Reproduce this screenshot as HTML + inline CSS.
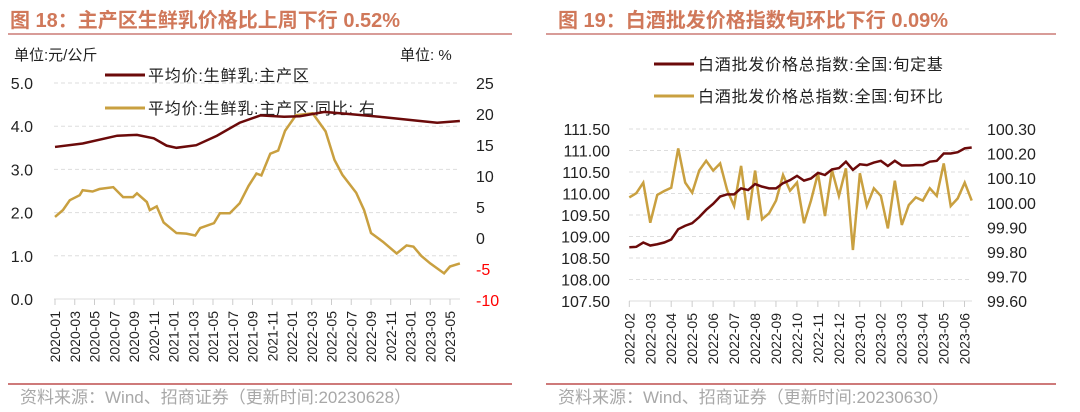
<!DOCTYPE html>
<html><head><meta charset="utf-8"><style>
body{margin:0;background:#fff;width:1080px;height:412px;overflow:hidden;font-family:"Liberation Sans","Noto Sans CJK SC",sans-serif}
svg{position:absolute;left:0;top:0}
</style></head><body>
<svg width="1080" height="412" id="s">
<g font-family="Liberation Sans, Noto Sans CJK SC, sans-serif">
<text x="10" y="27" font-size="20" font-weight="bold" fill="#d0785a">图 18：主产区生鲜乳价格比上周下行 0.52%</text>
<line x1="8" y1="34" x2="512" y2="34" stroke="#c0605a" stroke-width="1.2"/>
<text x="558" y="27" font-size="20" font-weight="bold" fill="#d0785a">图 19：白酒批发价格指数旬环比下行 0.09%</text>
<line x1="546" y1="34" x2="1056" y2="34" stroke="#c0605a" stroke-width="1.2"/>
<line x1="8" y1="384" x2="512" y2="384" stroke="#b02a2a" stroke-width="1.2"/>
<line x1="546" y1="384" x2="1056" y2="384" stroke="#b02a2a" stroke-width="1.2"/>
<text x="20" y="403" font-size="17" fill="#a8a8a8">资料来源：Wind、招商证券（更新时间:20230628）</text>
<text x="558" y="403" font-size="17" fill="#a8a8a8">资料来源：Wind、招商证券（更新时间:20230630）</text>
<text x="14" y="60" font-size="15" fill="#222">单位:元/公斤</text>
<text x="400" y="60" font-size="15" fill="#222">单位: %</text>
<line x1="105" y1="75" x2="145" y2="75" stroke="#6b0a0a" stroke-width="3"/>
<text x="148" y="81" font-size="16" letter-spacing="0.8" fill="#222">平均价:生鲜乳:主产区</text>
<line x1="105" y1="108" x2="145" y2="108" stroke="#c9a040" stroke-width="3"/>
<text x="148" y="114" font-size="16" letter-spacing="0.8" fill="#222">平均价:生鲜乳:主产区:同比:  右</text>
<line x1="654" y1="64" x2="694" y2="64" stroke="#6b0a0a" stroke-width="3"/>
<text x="698" y="70" font-size="16" letter-spacing="0.8" fill="#222">白酒批发价格总指数:全国:旬定基</text>
<line x1="654" y1="96" x2="694" y2="96" stroke="#c9a040" stroke-width="3"/>
<text x="698" y="102" font-size="16" letter-spacing="0.8" fill="#222">白酒批发价格总指数:全国:旬环比</text>
</g>
<g id="L"></g><g id="R"></g>
</svg>
<script>
// Left chart data
const milkPriceMonths=[0,2.8,6.3,8.3,10,11.3,12.3,14.3,16.4,18.7,20.8,23.2,24.8,27.3,29.9,33.2,36.6,38.7,41];
const milkPrice=[3.52,3.60,3.78,3.80,3.72,3.55,3.50,3.56,3.78,4.08,4.25,4.22,4.23,4.33,4.28,4.21,4.13,4.08,4.12];
const milkYoyMonths=[0,0.8,1.5,2.5,2.8,3.8,4.5,5.9,6.9,7.9,8.3,9.3,9.6,10.3,11,12.3,13.3,14.2,14.7,16.1,16.7,17.7,18.7,19.6,20.4,20.9,21.8,22.6,23.3,24.4,26.1,27.4,28.3,29.1,30.5,31.3,32,33.2,34.6,35.6,36.3,37.1,38,39.4,40,41];
const milkYoy=[3.4,4.5,6.1,6.9,7.7,7.5,7.9,8.2,6.6,6.6,7.2,5.8,4.5,5.1,2.5,0.8,0.7,0.4,1.6,2.4,4.0,4.0,5.6,8.4,10.4,10.1,13.6,14.1,17.3,19.8,20.1,17.2,12.6,10.2,7.3,4.5,0.8,-0.6,-2.5,-1.2,-1.4,-2.9,-4.1,-5.7,-4.6,-4.1];
const leftTicks=["0.0","1.0","2.0","3.0","4.0","5.0"];
const rightTicks=["-10","-5","0","5","10","15","20","25"];
const milkDates=["2020-01","2020-03","2020-05","2020-07","2020-09","2020-11","2021-01","2021-03","2021-05","2021-07","2021-09","2021-11","2022-01","2022-03","2022-05","2022-07","2022-09","2022-11","2023-01","2023-03","2023-05"];
// Right chart data
const baijiuDates=["2022-02","2022-03","2022-04","2022-05","2022-06","2022-07","2022-08","2022-09","2022-10","2022-11","2022-12","2023-01","2023-02","2023-03","2023-04","2023-05","2023-06"];
const baijiuIndex=[108.75,108.76,108.86,108.79,108.82,108.86,108.93,109.17,109.25,109.31,109.45,109.62,109.76,109.93,109.98,109.98,110.12,110.08,110.22,110.16,110.12,110.12,110.24,110.31,110.41,110.30,110.35,110.48,110.43,110.56,110.59,110.74,110.55,110.68,110.66,110.72,110.76,110.64,110.76,110.65,110.65,110.66,110.66,110.74,110.76,110.93,110.93,110.96,111.05,111.07];
const baijiuWow=[100.022,100.039,100.082,99.919,100.032,100.048,100.061,100.221,100.082,100.041,100.131,100.171,100.131,100.16,100.052,99.987,100.15,99.93,100.131,99.933,99.957,100.009,100.113,100.049,100.082,99.917,100.009,100.12,99.946,100.133,100.028,100.14,99.808,100.12,99.987,100.059,100.028,99.896,100.09,99.91,99.991,100.022,100.009,100.059,100.028,100.16,99.987,100.018,100.082,100.009];
const rLeftTicks=["107.50","108.00","108.50","109.00","109.50","110.00","110.50","111.00","111.50"];
const rRightTicks=["99.60","99.70","99.80","99.90","100.00","100.10","100.20","100.30"];

const NS="http://www.w3.org/2000/svg";
function mk(p,t,a){const e=document.createElementNS(NS,t);for(const k in a)e.setAttribute(k,a[k]);p.appendChild(e);return e;}
const F="Liberation Sans, Noto Sans CJK SC, sans-serif";
// Left chart
const L=document.getElementById('L');
const lx=m=>55+m*9.875, ly=v=>299-v*43.2, ry=v=>238-v*6.2;
leftTicks.forEach(t=>{const v=+t;
 const g=mk(L,'line',{x1:54,x2:460,y1:ly(v),y2:ly(v),stroke:'#ddd','stroke-dasharray':v===0?'':'4,3'});
 
 
 const tx=mk(L,'text',{x:33,y:ly(v)+6,'text-anchor':'end','font-size':16,fill:'#222','font-family':F});tx.textContent=t;
 
 });
rightTicks.forEach(t=>{const v=+t;
 const tx=mk(L,'text',{x:476,y:ry(v)+6,'font-size':16,fill:v<0?'#f00':'#222','font-family':F});tx.textContent=t;
 
 });
milkDates.forEach((d,i)=>{const x=lx(i*2);
 const tk=mk(L,'line',{x1:x,x2:x,y1:299,y2:305,stroke:'#ccc'});
 
 
 const tx=mk(L,'text',{transform:`translate(${x+5},311) rotate(-90)`,'text-anchor':'end','font-size':14,fill:'#222','font-family':F});tx.textContent=d;
 
 });
let p1=mk(L,'polyline',{points:milkYoyMonths.map((m,i)=>lx(m)+','+ry(milkYoy[i])).join(' '),fill:'none',stroke:'#c9a040','stroke-width':2.5});


let p2=mk(L,'polyline',{points:milkPriceMonths.map((m,i)=>lx(m)+','+ly(milkPrice[i])).join(' '),fill:'none',stroke:'#6b0a0a','stroke-width':2.5});


// Right chart
const R=document.getElementById('R');
const rx=i=>629.3+i*(342.4/(baijiuIndex.length-1)), rly=v=>129+(111.5-v)*43, rry=v=>129+(100.3-v)*246;
rLeftTicks.forEach(t=>{const v=+t;
 const g=mk(R,'line',{x1:629,x2:972,y1:rly(v),y2:rly(v),stroke:'#ddd','stroke-dasharray':v===107.5?'':'4,3'});
 
 
 const tx=mk(R,'text',{x:610,y:rly(v)+6,'text-anchor':'end','font-size':16,fill:'#222','font-family':F});tx.textContent=t;
 
 });
rRightTicks.forEach(t=>{const v=+t;
 const tx=mk(R,'text',{x:987,y:rry(v)+6,'font-size':16,fill:'#222','font-family':F});tx.textContent=t;
 
 });
baijiuDates.forEach((d,i)=>{const x=629.3+i*20.95;
 const tk=mk(R,'line',{x1:x,x2:x,y1:301,y2:307,stroke:'#ccc'});
 
 
 const tx=mk(R,'text',{transform:`translate(${x+5},313) rotate(-90)`,'text-anchor':'end','font-size':14,fill:'#222','font-family':F});tx.textContent=d;
 
 });
let p3=mk(R,'polyline',{points:baijiuWow.map((v,i)=>rx(i)+','+rry(v)).join(' '),fill:'none',stroke:'#c9a040','stroke-width':2.5});


let p4=mk(R,'polyline',{points:baijiuIndex.map((v,i)=>rx(i)+','+rly(v)).join(' '),fill:'none',stroke:'#6b0a0a','stroke-width':2.5});


</script>
</body></html>
